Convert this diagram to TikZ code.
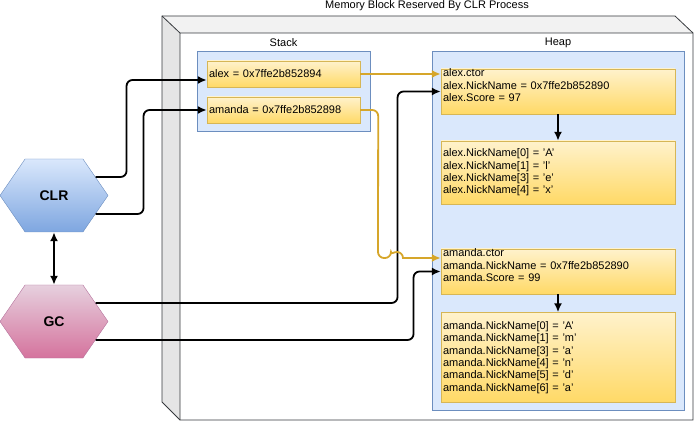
\documentclass[tikz,border=0pt]{standalone}
\usepackage{fontspec}
\setmainfont{Liberation Sans}
\usetikzlibrary{shapes.symbols,arrows.meta}

\definecolor{boxline}{HTML}{6C8EBF}
\definecolor{boxfill}{HTML}{DAE8FC}
\definecolor{cellline}{HTML}{D6B656}
\definecolor{celltop}{HTML}{FFF2CC}
\definecolor{cellbot}{HTML}{FFD966}
\definecolor{clrbot}{HTML}{7EA6E0}
\definecolor{gctop}{HTML}{E6D0DE}
\definecolor{gcbot}{HTML}{D5739D}
\definecolor{gcline}{HTML}{B5739D}
\definecolor{goldline}{HTML}{D6A62A}
\definecolor{cubeline}{HTML}{36393D}

\begin{document}
\begin{tikzpicture}[
x=1pt, y=-1pt,
every node/.style={
font=\fontsize{11}{12.4}\selectfont
},
area/.style={
draw=boxline,
fill=boxfill,
inner sep=0pt
},
cell/.style={
draw=cellline,
top color=celltop,
bottom color=cellbot,
align=left,
inner xsep=2pt,
inner ysep=0pt
},
hexa/.style={
shape=signal,
signal to=east and west,
signal pointer angle=111,
minimum width=108pt,
minimum height=73pt,
inner sep=0pt,
font=\fontsize{14}{16}\selectfont\bfseries
},
conn/.style={
-{Latex[length=9pt,width=8pt]},
line width=1.8pt,
rounded corners=6pt
},
gconn/.style={
conn,
draw=goldline
}
]

\useasboundingbox (0,0) rectangle (694,422);

% cube
\fill[black!5] (162,16) -- (675,16) -- (693,33) -- (180,33) -- cycle;
\fill[black!10] (162,16) -- (180,33) -- (180,420) -- (162,402) -- cycle;
\draw[cubeline, line width=0.8pt] (162,16) -- (675,16) -- (693,33) -- (693,420)
-- (180,420) -- (162,402) -- cycle;
\draw[cubeline, line width=0.8pt] (162,16) -- (180,33) -- (693,33) (180,33) -- (180,420);

\node (T) at (427,6)
{Memory Block Reserved By CLR Process};

\node[area, minimum width=173pt, minimum height=80pt] (S) at (283.5,91)
{};
\node at (283.5,43)
{Stack};

\node[area, minimum width=252pt, minimum height=359pt] (H) at (558,230.5)
{};
\node at (558,43)
{Heap};

\node[cell, text width=149pt, minimum height=26pt] (SA) at (283.5,74)
{alex = 0x7ffe2b852894};

\node[cell, text width=149pt, minimum height=26pt] (SM) at (283.5,110)
{amanda = 0x7ffe2b852898};

\node[cell, text width=230pt, minimum height=45pt] (HA) at (558,91.5)
{alex.ctor\\alex.NickName = 0x7ffe2b852890\\alex.Score = 97\\\mbox{}};

\node[cell, text width=230pt, minimum height=63pt] (HAN) at (558,172.5)
{alex.NickName[0] = 'A'\\alex.NickName[1] = 'l'\\alex.NickName[3] = 'e'\\alex.NickName[4] = 'x'};

\node[cell, text width=230pt, minimum height=45pt] (HM) at (558,271.5)
{amanda.ctor\\amanda.NickName = 0x7ffe2b852890\\amanda.Score = 99\\\mbox{}};

\node[cell, text width=230pt, minimum height=90pt] (HMN) at (558,357.5)
{amanda.NickName[0] = 'A'\\amanda.NickName[1] = 'm'\\amanda.NickName[3] = 'a'\\amanda.NickName[4] = 'n'\\amanda.NickName[5] = 'd'\\amanda.NickName[6] = 'a'};

\node[hexa, draw=boxline, top color=boxfill, bottom color=clrbot] (CLR) at (54,195.5)
{CLR};

\node[hexa, draw=gcline, top color=gctop, bottom color=gcbot] (GC) at (54,321.5)
{GC};

\draw[{Latex[length=9pt,width=8pt]}-{Latex[length=9pt,width=8pt]}, line width=1.8pt] (CLR) -- (GC);

\draw[conn] (CLR.24) -- ++(31,0) |- ([yshift=-6pt]SA.west);
\draw[conn] (CLR.-24) -- ++(48,0) |- (SM.west);

\draw[conn] (GC.24) -- ++(302,0) |- (HA.west);
\draw[conn] (GC.-24) -- ++(318,0) |- (HM.west);

\draw[gconn] (SA.east) -- ([yshift=17.5pt]HA.west);
\draw[gconn] (SM.east) -- ++(18,0) -- (378,258) -- (391,258)
[sharp corners] arc[start angle=180, end angle=360, radius=6]
-- ([yshift=13.5pt]HM.west);

\draw[conn] (HA) -- (HAN);
\draw[conn] (HM) -- (HMN);

\end{tikzpicture}
\end{document}
